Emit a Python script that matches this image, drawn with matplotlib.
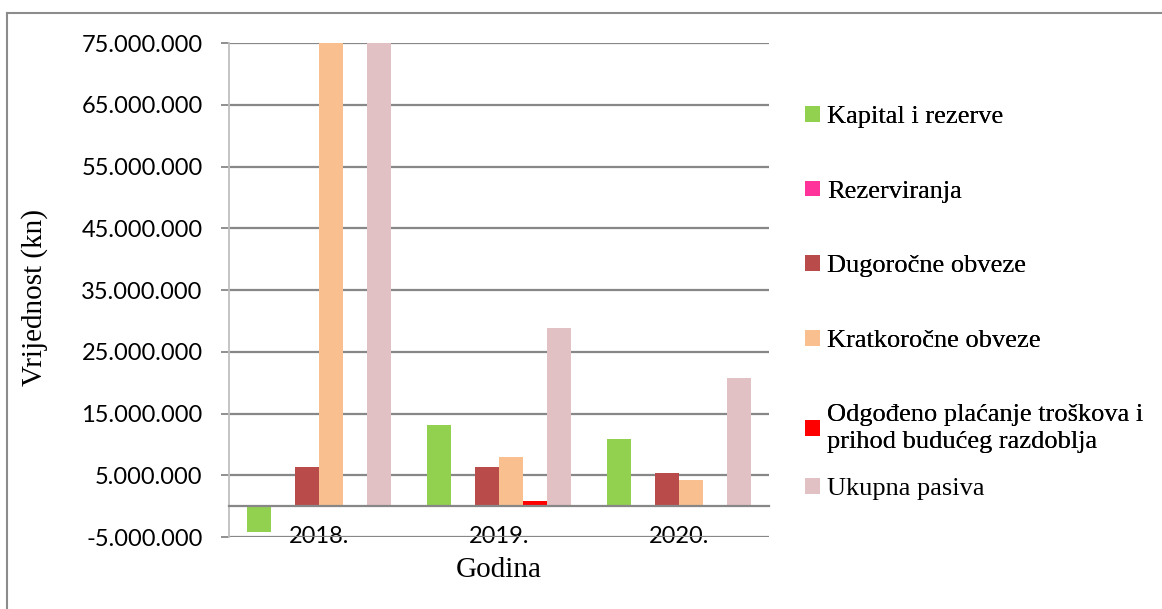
import matplotlib
matplotlib.use("Agg")
import matplotlib.pyplot as plt
from matplotlib.lines import Line2D
from matplotlib.patches import Patch
from matplotlib.ticker import FuncFormatter
import numpy as np

years = ["2018.", "2019.", "2020."]
series_names = [
    "Kapital i rezerve",
    "Rezerviranja",
    "Dugoročne obveze",
    "Kratkoročne obveze",
    "Odgođeno plaćanje troškova i\nprihod budućeg razdoblja",
    "Ukupna pasiva",
]
kapital = [-4_200_000, 13_150_000, 10_880_000]
rezerviranja = [0, 200_000, 200_000]
dugorocne = [6_400_000, 6_350_000, 5_420_000]
kratkorocne = [75_600_000, 8_000_000, 4_240_000]
odgodeno = [0, 900_000, 0]
ukupna = [77_600_000, 28_850_000, 20_700_000]
colors = ["#92D050", "#FF3399", "#B94C4A", "#F9BF8F", "#FF0000", "#E1C1C3"]
yticks = [-5_000_000, 5_000_000, 15_000_000, 25_000_000, 35_000_000,
          45_000_000, 55_000_000, 65_000_000, 75_000_000]

all_series = [kapital, rezerviranja, dugorocne, kratkorocne, odgodeno, ukupna]

W, H = 1162, 609
fig = plt.figure(figsize=(W / 100, H / 100), dpi=100)
fig.patch.set_facecolor("white")
ax = fig.add_axes([229 / W, 1 - 537 / H, (769 - 229) / W, (537 - 43) / H])

grid_c = "#878787"
x = np.arange(len(years))
bw = 1 / 7.5
for i, (vals, c) in enumerate(zip(all_series, colors)):
    ax.bar(x + (i - 2.5) * bw, vals, width=bw, color=c, zorder=3, linewidth=0)

ax.set_xlim(-0.5, 2.5)
ax.set_ylim(-5_000_000, 75_000_000)
ax.set_yticks(yticks)
ax.yaxis.set_major_formatter(FuncFormatter(
    lambda v, p: ("-" if v < 0 else "") + f"{abs(int(v)):,}".replace(",", ".")))
ax.grid(axis="y", color=grid_c, linewidth=1.6, zorder=1)
ax.set_axisbelow(True)

for s in ["top", "right"]:
    ax.spines[s].set_visible(False)
ax.spines["left"].set_color("#BFBFBF")
ax.spines["left"].set_linewidth(1.3)
ax.spines["bottom"].set_position(("data", 0))
ax.spines["bottom"].set_color(grid_c)
ax.spines["bottom"].set_linewidth(1.6)
ax.spines["bottom"].set_zorder(4)

ax.set_xticks(x)
ax.set_xticklabels(years, fontfamily="Lato", fontsize=17)
ax.tick_params(axis="x", length=0, pad=14)
ax.tick_params(axis="y", length=6, width=1.3, color=grid_c, pad=13,
               labelsize=17)
for t in ax.get_yticklabels():
    t.set_fontfamily("Lato")

fig.text(35 / W, 1 - 297 / H, "Vrijednost (kn)", rotation=90, ha="center",
         va="center", fontfamily="Liberation Serif", fontsize=21)
fig.text(499 / W, 1 - 570 / H, "Godina", ha="center", va="center",
         fontfamily="Liberation Serif", fontsize=21)

handles = [Patch(facecolor=c, edgecolor="none") for c in colors]
leg1 = fig.legend(handles[:5], series_names[:5], loc="upper left",
                  bbox_to_anchor=(805 / W, 1 - 106 / H), frameon=False,
                  prop={"family": "Liberation Serif", "size": 19},
                  handlelength=0.55, handleheight=0.55, handletextpad=0.3,
                  labelspacing=1.98, borderpad=0, borderaxespad=0)
for t in leg1.get_texts():
    t.set_linespacing(1.3)
fig.add_artist(leg1)
leg2 = fig.legend(handles[5:], series_names[5:], loc="upper left",
                  bbox_to_anchor=(805 / W, 1 - 478 / H), frameon=False,
                  prop={"family": "Liberation Serif", "size": 19},
                  handlelength=0.55, handleheight=0.55, handletextpad=0.3,
                  borderpad=0, borderaxespad=0)

fig.add_artist(Line2D([7 / W, 7 / W], [0, 1 - 13 / H], transform=fig.transFigure,
                      color="#8C8C8C", linewidth=1.5))
fig.add_artist(Line2D([7 / W, 1], [1 - 13 / H, 1 - 13 / H], transform=fig.transFigure,
                      color="#8C8C8C", linewidth=1.5))

fig.savefig("out.png", dpi=100, facecolor="white")
